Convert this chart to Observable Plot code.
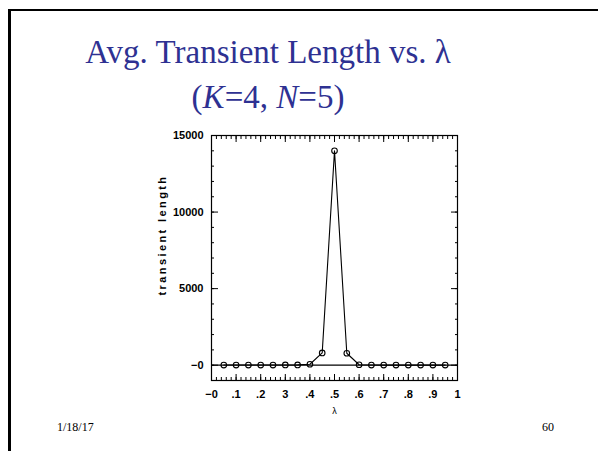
<!DOCTYPE html>
<html>
<head>
<meta charset="utf-8">
<script src="https://cdn.jsdelivr.net/npm/d3@7"></script>
<script src="https://cdn.jsdelivr.net/npm/@observablehq/plot@0.6"></script>
<style>
  html, body { margin: 0; padding: 0; background: #fff; }
  #page { position: relative; width: 598px; height: 451px; overflow: hidden; background: #fff; }
  #borderTop { position: absolute; left: 8px; top: 9px; width: 600px; height: 2px; background: #000; }
  #borderLeft { position: absolute; left: 8px; top: 9px; width: 3px; height: 460px; background: #000; }
  #title { position: absolute; left: 0; top: 30px; width: 536px; text-align: center;
           font-family: "Liberation Serif", "Times New Roman", serif; font-size: 33px; line-height: 45px; color: #2E3192; }
  #chart { position: absolute; left: 140px; top: 120px; }
  .foot { position: absolute; top: 420px; font-family: "Liberation Serif", serif; font-size: 12px; color: #000; }
</style>
</head>
<body>
<div id="page">
  <div id="borderTop"></div>
  <div id="borderLeft"></div>
  <div id="title">Avg. Transient Length vs. λ<br>(<i>K</i>=4, <i>N</i>=5)</div>
  <div id="chart"></div>
  <div class="foot" style="left:57px">1/18/17</div>
  <div class="foot" style="left:542px">60</div>
</div>
<script>
const lambda = [0.05, 0.10, 0.15, 0.20, 0.25, 0.30, 0.35, 0.40, 0.45, 0.50, 0.55, 0.60, 0.65, 0.70, 0.75, 0.80, 0.85, 0.90, 0.95];
const transient = [10, 10, 10, 10, 10, 15, 20, 60, 800, 14000, 780, 30, 10, 5, 5, 5, 5, 5, 5];
const xMajor = [0, 0.1, 0.2, 0.3, 0.4, 0.5, 0.6, 0.7, 0.8, 0.9, 1];
const xLabels = ["\u22120", ".1", ".2", "3", ".4", ".5", ".6", ".7", ".8", ".9", "1"];
const yMajor = [0, 5000, 10000, 15000];
const yLabels = ["\u22120", "5000", "10000", "15000"];
const xMinor = d3.range(0, 51).map(i => i / 50);
const yMinor = d3.range(-1, 16).map(i => i * 1000);

const data = lambda.map((x, i) => ({x, y: transient[i]}));
const fx = d => xLabels[xMajor.findIndex(v => Math.abs(v - d) < 1e-9)];
const fy = d => yLabels[yMajor.indexOf(d)];
const blank = () => "";

const plot = Plot.plot({
  width: 330,
  height: 300,
  marginLeft: 71,
  marginRight: 13,
  marginTop: 15,
  marginBottom: 40,
  style: {fontFamily: "'Liberation Sans', Arial, sans-serif", fontSize: "11px", fontWeight: "bold", color: "#000", background: "transparent"},
  x: {domain: [0, 1]},
  y: {domain: [-1000, 15000]},
  marks: [
    Plot.frame({stroke: "#000", strokeWidth: 1.2}),
    Plot.axisX(xMinor, {anchor: "bottom", tickSize: -3, tickFormat: blank, label: null}),
    Plot.axisX(xMinor, {anchor: "top", tickSize: -3, tickFormat: blank, label: null}),
    Plot.axisX(xMajor, {anchor: "bottom", tickSize: -6, tickPadding: 16, tickFormat: fx, label: null}),
    Plot.axisX(xMajor, {anchor: "top", tickSize: -6, tickFormat: blank, label: null}),
    Plot.axisY(yMinor, {anchor: "left", tickSize: -3, tickFormat: blank, label: null}),
    Plot.axisY(yMinor, {anchor: "right", tickSize: -3, tickFormat: blank, label: null}),
    Plot.axisY(yMajor, {anchor: "left", tickSize: -7, tickPadding: 15, tickFormat: fy, label: null}),
    Plot.axisY(yMajor, {anchor: "right", tickSize: -7, tickFormat: blank, label: null}),
    Plot.ruleY([0], {stroke: "#000", strokeWidth: 1.2}),
    Plot.line(data, {x: "x", y: "y", stroke: "#000", strokeWidth: 1.1}),
    Plot.dot(data, {x: "x", y: "y", r: 2.8, stroke: "#000", strokeWidth: 1.1, fill: "none"}),
    Plot.text(["transient length"], {frameAnchor: "left", textAnchor: "middle", rotate: -90, dx: -49, dy: -23, fontSize: 11, fontWeight: "bold"}),
    Plot.text(["λ"], {frameAnchor: "bottom", dy: 33, fontSize: 9, fontWeight: "normal"})
  ]
});
d3.select(plot).selectAll("text").filter(function() { return this.textContent === "transient length"; }).style("letter-spacing", "2.4px");
document.getElementById("chart").appendChild(plot);
</script>
</body>
</html>
